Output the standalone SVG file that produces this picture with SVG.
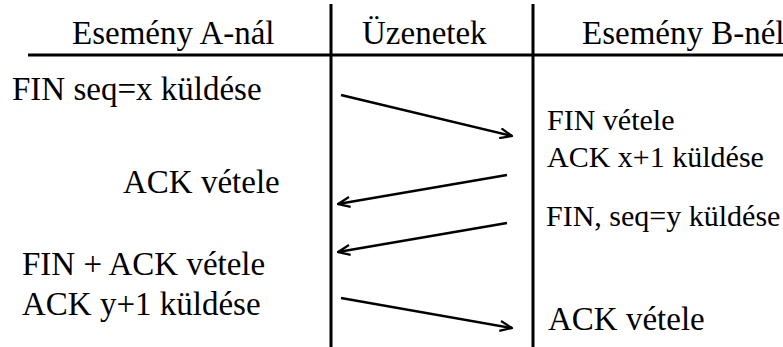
<svg xmlns="http://www.w3.org/2000/svg" width="783" height="347" viewBox="0 0 783 347">
  <style>
    text { font-family: "Liberation Serif", "Times New Roman", serif; fill: #000; }
    .lg { font-size: 33px; }
    .sm { font-size: 30px; }
    .rule { stroke: #000; stroke-width: 3; fill: none; }
    .msg { stroke: #000; stroke-width: 2.5; fill: none; }
  </style>
  <defs>
    <marker id="head" viewBox="0 0 14 12" refX="13" refY="6" markerWidth="14" markerHeight="12" markerUnits="userSpaceOnUse" orient="auto">
      <path d="M1,1 L13,6 L1,11" fill="none" stroke="#000" stroke-width="2.2"/>
    </marker>
  </defs>
  <rect width="783" height="347" fill="#fff"/>

  <!-- table rules -->
  <g id="grid">
    <line class="rule" x1="28" y1="55" x2="783" y2="55"/>
    <line class="rule" x1="331" y1="4" x2="331" y2="347"/>
    <line class="rule" x1="533" y1="4" x2="533" y2="347"/>
  </g>

  <!-- column headers -->
  <g id="header-a"><text class="lg" x="72" y="44">Esemény A-nál</text></g>
  <g id="header-msg"><text class="lg" x="362" y="44">Üzenetek</text></g>
  <g id="header-b"><text class="lg" x="582" y="44">Esemény B-nél</text></g>

  <!-- events at A -->
  <g id="a-fin-send"><text class="lg" x="12" y="100">FIN seq=x küldése</text></g>
  <g id="a-ack-recv"><text class="lg" x="123" y="193">ACK vétele</text></g>
  <g id="a-finack-recv">
    <text class="lg" x="22" y="275">FIN + ACK vétele</text>
    <text class="lg" x="22" y="315">ACK y+1 küldése</text>
  </g>

  <!-- events at B -->
  <g id="b-fin-recv">
    <text class="sm" x="547" y="130">FIN vétele</text>
    <text class="sm" x="547" y="167">ACK x+1 küldése</text>
  </g>
  <g id="b-fin-send"><text class="sm" x="546" y="226">FIN, seq=y küldése</text></g>
  <g id="b-ack-recv"><text class="lg" x="548" y="330">ACK vétele</text></g>

  <!-- messages -->
  <g id="connectors">
    <line class="msg" x1="341" y1="95" x2="512" y2="136" marker-end="url(#head)"/>
    <line class="msg" x1="507" y1="175" x2="338" y2="204" marker-end="url(#head)"/>
    <line class="msg" x1="507" y1="223" x2="338" y2="252" marker-end="url(#head)"/>
    <line class="msg" x1="341" y1="298" x2="512" y2="328" marker-end="url(#head)"/>
  </g>
</svg>
